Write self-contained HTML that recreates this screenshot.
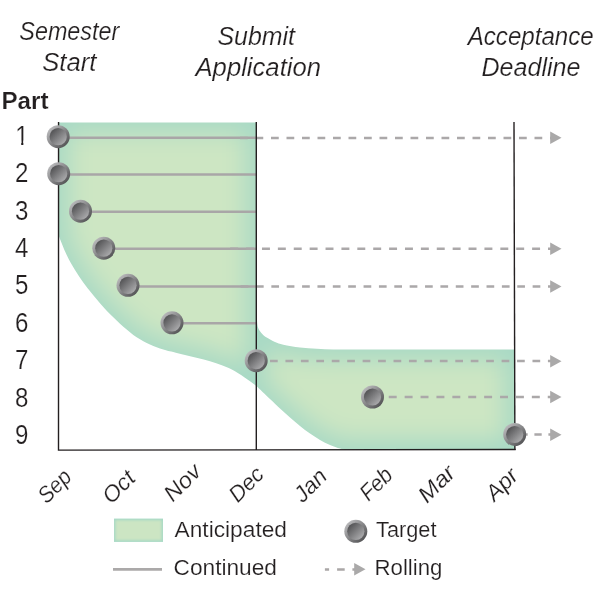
<!DOCTYPE html>
<html>
<head>
<meta charset="utf-8">
<title>Application Timeline</title>
<style>
html,body{margin:0;padding:0;background:#fff;}
body{width:600px;height:600px;overflow:hidden;}
svg{display:block;will-change:transform;}
text{font-family:"Liberation Sans",sans-serif;fill:#231f20;stroke:#fff;stroke-width:0.18px;}
.ttl{font-style:italic;font-size:25.5px;}
.num{font-size:27px;}
.mon{font-size:22.5px;font-style:italic;}
.leg{font-size:22.8px;}
</style>
</head>
<body>
<svg width="600" height="600" viewBox="0 0 600 600">
<defs>
  <path id="s1" d="M58.4,122.5 L256.3,122.5 L256.3,386 C254.8,384.9 251.1,382.0 247.5,379.5 C243.9,377.0 239.2,373.6 235.0,371.2 C230.8,368.9 226.7,367.2 222.5,365.5 C218.3,363.8 214.2,362.5 210.0,361.2 C205.8,360.0 201.7,359.0 197.5,358.0 C193.3,357.0 189.0,356.0 185.0,355.0 C181.0,354.0 176.4,352.8 173.3,352.0 C170.2,351.2 168.9,351.0 166.7,350.4 C164.5,349.8 162.2,349.1 160.0,348.4 C157.8,347.7 155.5,346.9 153.3,346.0 C151.1,345.1 148.9,344.1 146.7,343.0 C144.5,341.9 142.2,340.6 140.0,339.3 C137.8,338.0 135.5,336.6 133.3,335.0 C131.1,333.4 128.9,331.5 126.7,329.6 C124.5,327.7 122.2,325.8 120.0,323.7 C117.8,321.6 115.5,319.5 113.3,317.3 C111.1,315.1 108.7,312.8 106.7,310.7 C104.7,308.6 103.8,307.6 101.3,304.7 C98.8,301.8 94.7,297.0 91.7,293.3 C88.7,289.6 86.1,286.4 83.3,282.5 C80.5,278.6 77.8,274.6 75.0,270.0 C72.2,265.4 69.5,260.8 66.7,255.0 C63.9,249.2 59.8,238.3 58.4,235.0 Z"/>
  <path id="s2" d="M256.4,308.0 C256.5,310.0 256.7,316.6 257.0,320.0 C257.3,323.4 257.4,325.9 258.3,328.3 C259.2,330.7 261.1,332.7 262.5,334.2 C263.9,335.7 264.6,336.2 266.7,337.5 C268.8,338.8 272.2,340.8 275.0,342.0 C277.8,343.2 279.1,343.8 283.3,344.7 C287.5,345.6 294.4,346.8 300.0,347.5 C305.6,348.2 311.1,348.5 316.7,348.8 C322.2,349.1 327.8,349.3 333.3,349.4 C338.9,349.5 347.2,349.6 350.0,349.6 L514.6,349.6 L515,449.6 L345,449.6 C344.2,449.4 342.5,449.4 340.0,448.6 C337.5,447.8 333.3,446.4 330.0,445.0 C326.7,443.6 323.3,441.9 320.0,440.0 C316.7,438.1 313.3,435.9 310.0,433.6 C306.7,431.3 303.3,428.7 300.0,426.0 C296.7,423.3 293.3,420.3 290.0,417.4 C286.7,414.5 283.3,411.5 280.0,408.4 C276.7,405.3 273.9,402.7 270.0,399.0 C266.1,395.3 258.7,388.2 256.4,386.0 Z"/>
  <clipPath id="c1"><use href="#s1"/></clipPath>
  <clipPath id="c2"><use href="#s2"/></clipPath>
  <clipPath id="c4"><rect x="10" y="120" width="20" height="20.5"/><rect x="21.2" y="140" width="2.15" height="8"/></clipPath>
  <clipPath id="c3"><rect x="114" y="518.8" width="49" height="22.9"/></clipPath>
  <filter id="bl" x="-20%" y="-20%" width="140%" height="140%" color-interpolation-filters="sRGB"><feGaussianBlur stdDeviation="12"/></filter>
  <filter id="bl2" x="-20%" y="-20%" width="140%" height="140%" color-interpolation-filters="sRGB"><feGaussianBlur stdDeviation="1.3"/></filter>
  <linearGradient id="ring" x1="0.15" y1="0.15" x2="0.85" y2="0.85">
    <stop offset="0" stop-color="#b7b7b9"/>
    <stop offset="1" stop-color="#565658"/>
  </linearGradient>
  <linearGradient id="core" x1="0.15" y1="0.15" x2="0.85" y2="0.85">
    <stop offset="0" stop-color="#545456"/>
    <stop offset="1" stop-color="#a9a9ab"/>
  </linearGradient>
  <g id="dot">
    <circle r="11.5" fill="url(#ring)"/>
    <circle r="8.6" fill="url(#core)"/>
  </g>
  <path id="ah" d="M0,-6.2 L11.3,0 L0,6.2 Z" fill="#aaa9a9"/>
</defs>

<!-- anticipated areas -->
<g clip-path="url(#c1)">
  <g filter="url(#bl)"><rect x="-20" y="40" width="360" height="430" fill="#a8d9c5"/><use href="#s1" fill="#cde6c3" stroke="#a8d9c5" stroke-width="20"/></g>
</g>
<g clip-path="url(#c2)">
  <g filter="url(#bl)"><rect x="180" y="230" width="420" height="300" fill="#a8d9c5"/><use href="#s2" fill="#cde6c3" stroke="#a8d9c5" stroke-width="20"/></g>
</g>

<!-- continued lines -->
<g stroke="#a9a6a7" stroke-width="2.5" fill="none">
  <line x1="58" y1="137.8" x2="256" y2="137.8"/>
  <line x1="58" y1="174.5" x2="256" y2="174.5"/>
  <line x1="80" y1="211.8" x2="256" y2="211.8"/>
  <line x1="104" y1="248.7" x2="256" y2="248.7"/>
  <line x1="128" y1="286.5" x2="256" y2="286.5"/>
  <line x1="172" y1="323.3" x2="256" y2="323.3"/>
</g>

<!-- rolling dashed lines -->
<g stroke="#aba8a9" stroke-width="2.5" fill="none">
  <line x1="240" y1="138" x2="552" y2="138" stroke-dasharray="7.75 7.75"/>
  <line x1="230.2" y1="248.7" x2="552" y2="248.7" stroke-dasharray="7.95 7.94"/>
  <line x1="240.6" y1="286.5" x2="552" y2="286.5" stroke-dasharray="7.7 7.67"/>
  <line x1="270" y1="361" x2="552" y2="361" stroke-dasharray="7.72 7.72"/>
  <line x1="388.75" y1="397" x2="552" y2="397" stroke-dasharray="7.95 7.95"/>
  <line x1="520.4" y1="434.6" x2="552" y2="434.6" stroke-dasharray="7.3 6.7"/>
</g>
<use href="#ah" x="550.2" y="137.8"/>
<use href="#ah" x="550.2" y="248.7"/>
<use href="#ah" x="550.2" y="286.5"/>
<use href="#ah" x="550.2" y="361.2"/>
<use href="#ah" x="550.2" y="397"/>
<use href="#ah" x="550.2" y="434.7"/>

<!-- axes -->
<g stroke="#231f20" stroke-width="1.4" fill="none">
  <path d="M58.55,122 L58.5,450.15 L515.7,449.5" stroke-linejoin="miter"/>
  <line x1="256.3" y1="122" x2="256.3" y2="450"/>
  <line x1="514" y1="122" x2="514.9" y2="450.1"/>
</g>

<!-- targets -->
<use href="#dot" x="58.2" y="136.7"/>
<use href="#dot" x="58.7" y="173.7"/>
<use href="#dot" x="80.5" y="211.2"/>
<use href="#dot" x="103.75" y="248.2"/>
<use href="#dot" x="128" y="285.3"/>
<use href="#dot" x="172" y="322.8"/>
<use href="#dot" x="256.2" y="360.7"/>
<use href="#dot" x="372.5" y="397"/>
<use href="#dot" x="514.7" y="434.5"/>

<!-- titles -->
<text class="ttl" x="19.3" y="40" textLength="100" lengthAdjust="spacingAndGlyphs">Semester</text>
<text class="ttl" x="42.3" y="70.6" textLength="54" lengthAdjust="spacingAndGlyphs">Start</text>
<text class="ttl" x="217.5" y="45" textLength="77.5" lengthAdjust="spacingAndGlyphs">Submit</text>
<text class="ttl" x="195.5" y="76.2" textLength="125.5" lengthAdjust="spacingAndGlyphs">Application</text>
<text class="ttl" x="467.7" y="45" textLength="126" lengthAdjust="spacingAndGlyphs">Acceptance</text>
<text class="ttl" x="481.5" y="76.2" textLength="99" lengthAdjust="spacingAndGlyphs">Deadline</text>

<text x="1.5" y="108.7" font-weight="bold" font-size="24.5" textLength="47" lengthAdjust="spacingAndGlyphs">Part</text>
<g class="num" clip-path="url(#c4)"><text x="15.2" y="144.8" textLength="13.4" lengthAdjust="spacingAndGlyphs">1</text></g>
<g class="num">
  <text x="15.1" y="182.2" textLength="13.4" lengthAdjust="spacingAndGlyphs">2</text>
  <text x="15.1" y="219.6" textLength="13.4" lengthAdjust="spacingAndGlyphs">3</text>
  <text x="15.1" y="257.0" textLength="13.4" lengthAdjust="spacingAndGlyphs">4</text>
  <text x="15.1" y="294.4" textLength="13.4" lengthAdjust="spacingAndGlyphs">5</text>
  <text x="15.1" y="331.9" textLength="13.4" lengthAdjust="spacingAndGlyphs">6</text>
  <text x="15.1" y="369.4" textLength="13.4" lengthAdjust="spacingAndGlyphs">7</text>
  <text x="15.1" y="407.0" textLength="13.4" lengthAdjust="spacingAndGlyphs">8</text>
  <text x="15.1" y="444.2" textLength="13.4" lengthAdjust="spacingAndGlyphs">9</text>
</g>

<!-- months -->
<g class="mon">
  <text transform="translate(46.7,504.5) rotate(-45) scale(0.923,1)">Sep</text>
  <text transform="translate(111.2,505.0) rotate(-45) scale(1.032,1)">Oct</text>
  <text transform="translate(172.8,502.8) rotate(-45) scale(1.057,1)">Nov</text>
  <text transform="translate(237.7,503.5) rotate(-45) scale(0.980,1)">Dec</text>
  <text transform="translate(302.7,503.5) rotate(-45) scale(1.006,1)">Jan</text>
  <text transform="translate(368.4,502.1) rotate(-45) scale(0.939,1)">Feb</text>
  <text transform="translate(427.0,504.0) rotate(-45) scale(1.089,1)">Mar</text>
  <text transform="translate(494.5,502.2) rotate(-45) scale(1.019,1)">Apr</text>
</g>

<!-- legend -->
<g clip-path="url(#c3)">
  <rect x="110" y="515" width="60" height="32" fill="#a7d9c5"/>
  <g filter="url(#bl2)"><rect x="114" y="518.8" width="49" height="22.9" fill="#cce5c3" stroke="#a7d9c5" stroke-width="3"/></g>
</g>
<line x1="113" y1="569.4" x2="162" y2="569.4" stroke="#aba9a9" stroke-width="2.8"/>
<use href="#dot" x="355.8" y="531.3"/>
<line x1="324.9" y1="569.4" x2="356" y2="569.4" stroke="#aaa7a7" stroke-width="2.5" stroke-dasharray="4.2 8 7.6 7.7 8 0"/>
<use href="#ah" x="354.2" y="569.3"/>
<g class="leg">
  <text x="174.5" y="536.5" textLength="112.5" lengthAdjust="spacingAndGlyphs">Anticipated</text>
  <text x="173.5" y="574.7" textLength="103.5" lengthAdjust="spacingAndGlyphs">Continued</text>
  <text x="376" y="536.5" textLength="60.5" lengthAdjust="spacingAndGlyphs">Target</text>
  <text x="374.5" y="574.7" textLength="68" lengthAdjust="spacingAndGlyphs">Rolling</text>
</g>
</svg>
</body>
</html>
